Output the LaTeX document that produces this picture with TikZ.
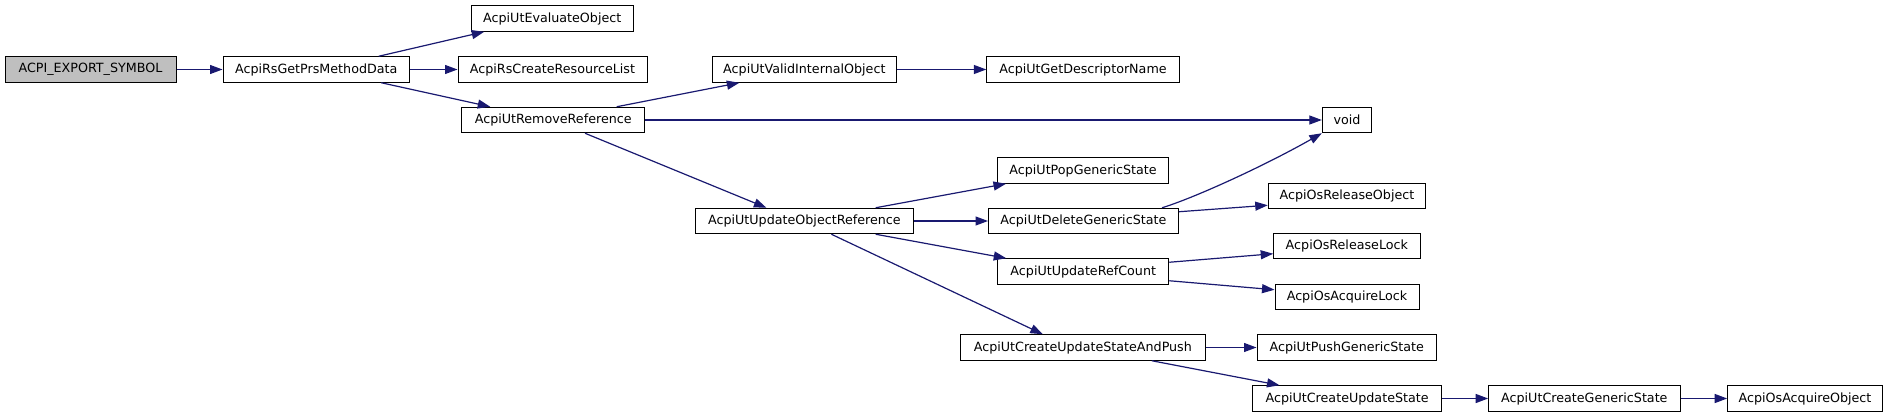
\documentclass[tikz,border=0pt]{standalone}
\usepackage{fontspec}
\setmainfont{DejaVu Sans}
\usetikzlibrary{arrows.meta,calc}
\definecolor{edgeblue}{HTML}{191970}
\definecolor{rootgray}{HTML}{BFBFBF}
\begin{document}
\begin{tikzpicture}[x=1pt,y=-1pt,
  fn/.style={draw=black,line width=1pt,fill=white,minimum height=25.5pt,inner sep=0pt,
    font=\fontsize{12.7}{14}\selectfont},
  edge/.style={draw=edgeblue,line width=1.2pt,-{Triangle[length=12.5pt,width=9pt]}}]
\useasboundingbox (0,0) rectangle (1888,417);
\node[fn,fill=rootgray,minimum width=171pt] (root) at (90.5,69.5) {ACPI\_EXPORT\_SYMBOL};
\node[fn,minimum width=186.5pt] (getprs) at (316.25,69.5) {AcpiRsGetPrsMethodData};
\node[fn,minimum width=162.5pt] (evalobj) at (552.25,18.5) {AcpiUtEvaluateObject};
\node[fn,minimum width=189pt] (crlist) at (552.5,69.5) {AcpiRsCreateResourceList};
\node[fn,minimum width=183pt] (remref) at (553.25,120) {AcpiUtRemoveReference};
\node[fn,minimum width=184pt] (valid) at (804.35,69.5) {AcpiUtValidInternalObject};
\node[fn,minimum width=192.4pt] (descname) at (1083,69.5) {AcpiUtGetDescriptorName};
\node[fn,minimum width=49.3pt] (void) at (1347,120) {void};
\node[fn,minimum width=157.5pt] (relobj) at (1347,196) {AcpiOsReleaseObject};
\node[fn,minimum width=217.6pt] (updobj) at (804.4,221) {AcpiUtUpdateObjectReference};
\node[fn,minimum width=170.4pt] (pop) at (1083,170.5) {AcpiUtPopGenericState};
\node[fn,minimum width=189.8pt] (del) at (1083.4,221) {AcpiUtDeleteGenericState};
\node[fn,minimum width=171pt] (refc) at (1083.25,271.5) {AcpiUtUpdateRefCount};
\node[fn,minimum width=146.3pt] (rellock) at (1346.85,246) {AcpiOsReleaseLock};
\node[fn,minimum width=144pt] (acqlock) at (1347,297) {AcpiOsAcquireLock};
\node[fn,minimum width=245pt] (cusap) at (1082.85,347.5) {AcpiUtCreateUpdateStateAndPush};
\node[fn,minimum width=179.6pt] (push) at (1346.8,347.5) {AcpiUtPushGenericState};
\node[fn,minimum width=188.8pt] (cus) at (1347.1,398.5) {AcpiUtCreateUpdateState};
\node[fn,minimum width=191.3pt] (cgs) at (1584.35,398.5) {AcpiUtCreateGenericState};
\node[fn,minimum width=154.6pt] (acqobj) at (1805,398.5) {AcpiOsAcquireObject};

\draw[edge] (root.east) -- (getprs.west);
\draw[edge] ([xshift=62.5pt]getprs.north) -- ([xshift=-68pt]evalobj.south);
\draw[edge] (getprs.east) -- (crlist.west);
\draw[edge] ([xshift=65pt]getprs.south) -- ([xshift=-63pt]remref.north);
\draw[edge] ([xshift=63.4pt]remref.north) -- ([xshift=-65pt]valid.south);
\draw[edge] (valid.east) -- (descname.west);
\draw[edge] (remref.east) -- (void.west);
\draw[edge] ([xshift=31.75pt]remref.south) -- ([xshift=-38pt]updobj.north);
\draw[edge] ([xshift=71.3pt]updobj.north) -- ([xshift=-77pt]pop.south);
\draw[edge] (updobj.east) -- (del.west);
\draw[edge] ([xshift=71.3pt]updobj.south) -- ([xshift=-77pt]refc.north);
\draw[edge] ([xshift=27pt]updobj.south) -- ([xshift=-40pt]cusap.north);
\draw[edge] ([xshift=78.6pt]del.north) .. controls +(30,-9) and +(-60,34) .. (void.south west);
\draw[edge] ($(del.north east)+(0,4)$) -- ($(relobj.south west)+(0,-4)$);
\draw[edge] ($(refc.north east)+(0,4)$) -- ($(rellock.south west)+(0,-5.5)$);
\draw[edge] ($(refc.south east)+(0,-4)$) -- ($(acqlock.north west)+(0,6)$);
\draw[edge] (cusap.east) -- (push.west);
\draw[edge] ([xshift=69pt]cusap.south) -- ([xshift=-67.6pt]cus.north);
\draw[edge] (cus.east) -- (cgs.west);
\draw[edge] (cgs.east) -- (acqobj.west);
\end{tikzpicture}
\end{document}
